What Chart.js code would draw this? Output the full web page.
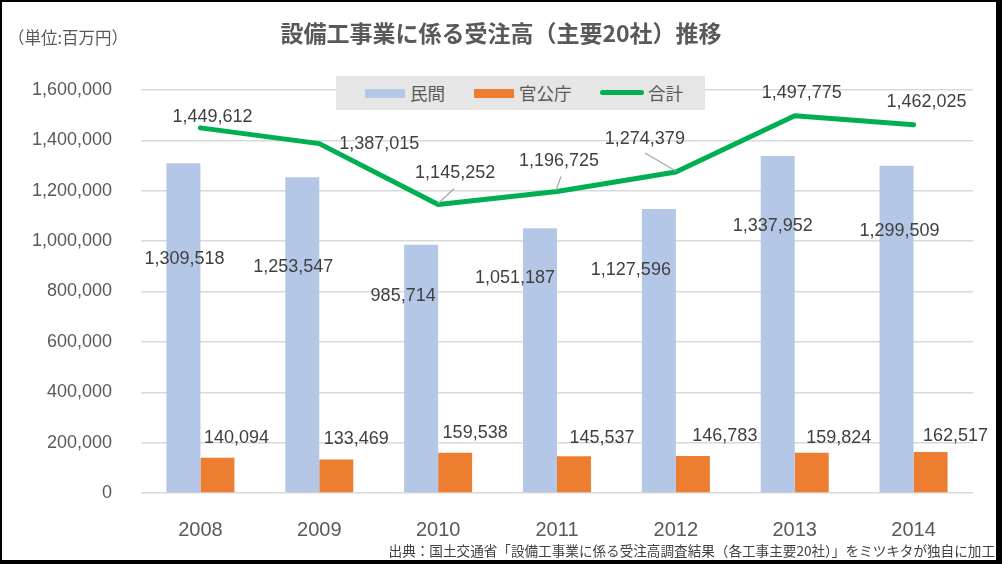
<!DOCTYPE html>
<html>
<head>
<meta charset="utf-8">
<script src="https://cdn.jsdelivr.net/npm/chart.js"></script>
<style>
  body { margin: 0; background: #000; width: 1002px; height: 564px; overflow: hidden; position: relative; }
  #paper { position: absolute; left: 2px; top: 2px; width: 994px; height: 558px; background: #fff; }
  #c { position: absolute; left: 0; top: 0; }
  .jp { font-family: "Noto Sans CJK JP", sans-serif; position: absolute; white-space: nowrap; }
  #title { left: 0; width: 1002px; top: 16px; text-align: center; font-size: 23px; font-weight: bold; color: #595959; line-height: 32px; }
  #unit { left: 8px; top: 26px; font-size: 16.5px; color: #595959; line-height: 22px; }
  #source { right: 7px; top: 540px; font-size: 13.6px; color: #404040; line-height: 20px; }
  #legend { position: absolute; left: 336px; top: 76px; width: 369px; height: 34px; background: #e6e6e6; }
  #legend span { position: absolute; }
  #legend .txt { font-family: "Noto Sans CJK JP", sans-serif; font-size: 17.5px; color: #595959; top: 4px; line-height: 26px; }
</style>
</head>
<body>
<div id="paper"></div>
<canvas id="c" width="1002" height="564"></canvas>
<div class="jp" id="title">設備工事業に係る受注高（主要20社）推移</div>
<div class="jp" id="unit">（単位:百万円）</div>
<div class="jp" id="source">出典：国土交通省「設備工事業に係る受注高調査結果（各工事主要20社）」をミツキタが独自に加工</div>
<div id="legend">
  <span style="left:29px;top:13px;width:40px;height:9px;background:#b4c7e7"></span>
  <span class="txt" style="left:74px">民間</span>
  <span style="left:138px;top:13px;width:40px;height:9px;background:#ed7d31"></span>
  <span class="txt" style="left:183px">官公庁</span>
  <span style="left:264px;top:14px;width:44px;height:5px;border-radius:3px;background:#00b050"></span>
  <span class="txt" style="left:312px">合計</span>
</div>
<script>
const years = ["2008", "2009", "2010", "2011", "2012", "2013", "2014"];
const privateOrders = [1309518, 1253547, 985714, 1051187, 1127596, 1337952, 1299509];
const publicOrders = [140094, 133469, 159538, 145537, 146783, 159824, 162517];
const totalOrders = [1449612, 1387015, 1145252, 1196725, 1274379, 1497775, 1462025];
const yTicks = [0, 200000, 400000, 600000, 800000, 1000000, 1200000, 1400000, 1600000];

// label placement (pixel offsets from the drawn element), as in the original
const privateLabelOffset = [[1, 96], [-9, 90], [-18, 51], [-25, 50], [-28, 61], [-5, 70], [3, 65]];
const publicLabelOffset = [[19, -20], [20, -20], [20, -20], [28, -18], [32, -20], [27, -15], [25, -16]];
const totalLabelOffset = [[12, -11], [60, 0], [17, -32], [2, -31], [-31, -33], [7, -23], [13, -23]];
const totalLeaders = [null, null, [0, -1, 16, -16], [-1, -1, 4, -15], [0, -1, -31, -19], null, null];

const fmt = (v) => v.toLocaleString("en-US");

const labelPlugin = {
  id: "labels",
  afterDatasetsDraw(chart) {
    const ctx = chart.ctx;
    ctx.save();
    ctx.font = '18px "Liberation Sans", sans-serif';
    ctx.fillStyle = "#404040";
    ctx.textAlign = "center";
    ctx.textBaseline = "middle";
    chart.data.datasets.forEach((ds, i) => {
      const meta = chart.getDatasetMeta(i);
      meta.data.forEach((el, j) => {
        const off = ds.labelOffset[j];
        if (ds.leaders && ds.leaders[j]) {
          const l = ds.leaders[j];
          ctx.strokeStyle = "#a6a6a6";
          ctx.lineWidth = 1.2;
          ctx.beginPath();
          ctx.moveTo(el.x + l[0], el.y + l[1]);
          ctx.lineTo(el.x + l[2], el.y + l[3]);
          ctx.stroke();
        }
        ctx.fillText(fmt(ds.data[j]), el.x + off[0], el.y + off[1]);
      });
    });
    ctx.restore();
  }
};

new Chart(document.getElementById("c"), {
  type: "bar",
  data: {
    labels: years,
    datasets: [
      {
        type: "line",
        label: "合計",
        data: totalOrders,
        borderColor: "#00b050",
        borderWidth: 5,
        pointRadius: 0,
        borderCapStyle: "round",
        borderJoinStyle: "round",
        tension: 0,
        order: 0,
        labelOffset: totalLabelOffset,
        leaders: totalLeaders
      },
      {
        label: "民間",
        data: privateOrders,
        backgroundColor: "#b4c7e7",
        categoryPercentage: 0.572,
        barPercentage: 1.0,
        order: 1,
        labelOffset: privateLabelOffset
      },
      {
        label: "官公庁",
        data: publicOrders,
        backgroundColor: "#ed7d31",
        categoryPercentage: 0.572,
        barPercentage: 1.0,
        order: 1,
        labelOffset: publicLabelOffset
      }
    ]
  },
  options: {
    responsive: false,
    animation: false,
    layout: { padding: { left: 0, right: 29, top: 90, bottom: 0 } },
    plugins: { legend: { display: false }, tooltip: { enabled: false } },
    scales: {
      x: {
        grid: { display: false },
        border: { display: false },
        ticks: { color: "#595959", font: { family: '"Liberation Sans", sans-serif', size: 20 }, padding: 17 },
        afterFit(scale) { scale.height = 71; }
      },
      y: {
        min: 0,
        max: 1600000,
        afterBuildTicks(scale) { scale.ticks = yTicks.map((v) => ({ value: v })); },
        grid: { color: "#d9d9d9", lineWidth: 1.5, drawTicks: false },
        border: { display: false },
        ticks: { color: "#595959", font: { family: '"Liberation Sans", sans-serif', size: 18 }, padding: 29, callback: (v) => fmt(v) },
        afterFit(scale) { scale.width = 141; }
      }
    }
  },
  plugins: [labelPlugin]
});
</script>
</body>
</html>
